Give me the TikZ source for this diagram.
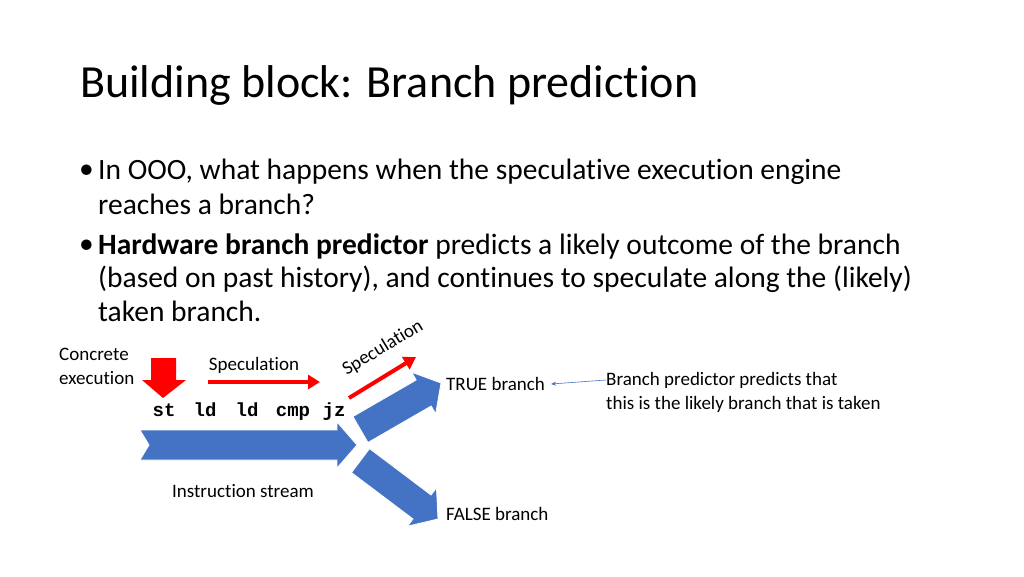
\documentclass[tikz,border=0pt]{standalone}
\usepackage{fontspec}
\setmainfont{Carlito}[Ligatures=NoCommon]
\newfontfamily\codefont{Liberation Mono}
\usetikzlibrary{positioning, calc, arrows.meta}
\definecolor{bblue}{RGB}{68,114,196}
\definecolor{bred}{RGB}{255,0,0}
\tikzset{
    body/.style={font=\fontsize{29.5}{34}\selectfont, anchor=west, inner sep=0},
    small/.style={font=\fontsize{19}{24}\selectfont, inner sep=0},
    code/.style={font=\codefont\bfseries\fontsize{19}{22}\selectfont, inner sep=0},
    fat/.style={fill=bblue, draw=white, line width=0.8pt},
    redarrow/.style={bred, line width=4pt, -{Triangle[length=12pt,width=14pt]}}
}
\begin{document}
\begin{tikzpicture}[x=1pt, y=-1pt]
    \useasboundingbox (0,0) rectangle (1024,576);

    % title and bullets
    \node[anchor=west, inner sep=0, font=\fontsize{46}{52}\selectfont] (title) at (80,85) {Building block: Branch prediction};
    \node[body] (b1) at (79,172) {\textbullet};
    \node[body] (l1) at (98,172) {In OOO, what happens when the speculative execution engine};
    \node[body] (l2) at (98,204) {reaches a branch?};
    \node[body] (b2) at (79,247) {\textbullet};
    \node[body] (l3) at (98,247) {\textbf{Hardware branch predictor} predicts a likely outcome of the branch};
    \node[body] (l4) at (98,279) {(based on past history), and continues to speculate along the (likely)};
    \node[body] (l5) at (98,311) {taken branch.};

    % instruction stream
    \fill[fat] (140,430) -- (337,430) -- (337,422) -- (357,445) -- (337,468)
        -- (337,460) -- (140,460) -- (149,445) -- cycle;
    \begin{scope}[shift={(441,383)}, rotate=-150]
        \fill[fat] (0,0) -- (20,-24) -- (20,-15) -- (93,-15) -- (93,15) -- (20,15) -- (20,24) -- cycle;
    \end{scope}
    \begin{scope}[shift={(438,519)}, rotate=143]
        \fill[fat] (0,0) -- (20,-24) -- (20,-15) -- (97,-15) -- (97,15) -- (20,15) -- (20,24) -- cycle;
    \end{scope}

    % concrete execution
    \fill[bred] (151,358) -- (176,358) -- (176,380) -- (186,380) -- (163,398)
        -- (142,380) -- (151,380) -- cycle;
    \node[small, align=left, anchor=west] (concrete) at (59,366) {Concrete\\execution};

    % instructions
    \foreach \x/\ins/\n in {164/st/st, 205/ld/ldA, 247/ld/ldB, 293/cmp/cmp, 334/jz/jz}
        \node[code, anchor=base] (\n) at (\x,416) {\ins};

    % speculation arrows
    \coordinate (s1s) at (208,382);
    \coordinate (s1e) at (320,382);
    \draw[redarrow] (s1s) -- (s1e);
    \node[small] (spec1) at (254,365) {Speculation};
    \coordinate (s2s) at (349,398);
    \coordinate (s2e) at (416,357);
    \draw[redarrow] (s2s) -- (s2e);
    \node[small, rotate=31] (spec2) at (383,348) {Speculation};

    % labels
    \node[small, anchor=west] (true) at (446,384) {TRUE branch};
    \node[small, anchor=west] (false) at (446,514) {FALSE branch};
    \node[small] (stream) at (243,491) {Instruction stream};
    \node[small, anchor=west, align=left] (pred) at (606,392) {Branch predictor predicts that\\this is the likely branch that is taken};
    \draw[bblue, line width=0.6pt, -{Stealth[length=5pt,width=4pt]}] (pred.west |- 0,380) -- ([xshift=6pt]true.east);
\end{tikzpicture}
\end{document}
